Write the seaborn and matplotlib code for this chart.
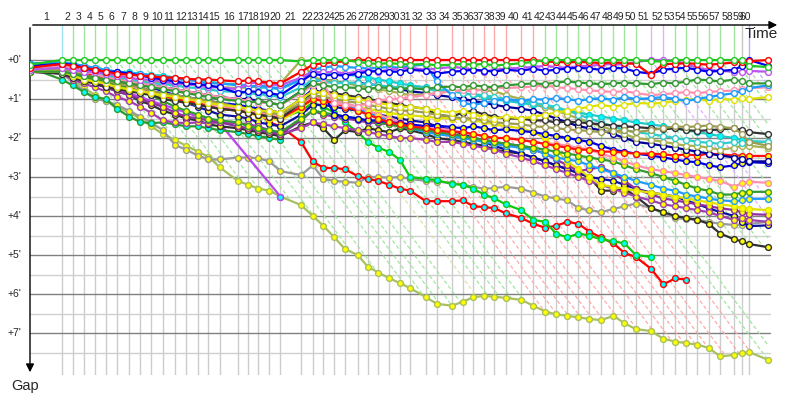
import numpy as np
import pandas as pd
import seaborn as sns
import matplotlib
matplotlib.use("Agg")
from matplotlib import pyplot as plt
from matplotlib import transforms

# leader lap times in seconds, lap 1 .. lap 60
lap_secs = [65.6, 22.8, 22.8, 22.8, 22.8, 22.8, 25.5, 22.8, 22.8, 24.2,
            25.5, 22.8, 24.2, 21.9, 23.2, 37.7, 21.9, 20.7, 22.8, 22.8,
            42.8, 24.2, 21.9, 22.8, 22.1, 26.3, 20.7, 21.9, 22.8, 22.1,
            20.7, 32.5, 22.8, 31.1, 22.8, 21.9, 22.1, 21.3, 23.6, 31.7,
            25.5, 24.2, 22.8, 23.4, 22.8, 22.8, 23.8, 25.9, 22.8, 23.6,
            31.1, 26.1, 24.2, 22.8, 23.4, 22.8, 24.2, 29.6, 15.3, 15.1]
finish_time = 1528

# who led each lap (C cyan, G green, O olive, R red, P purple, A grey, B blue)
lap_leader = "CGGGGGGGGGGGGGGGGGGGOGGGGRRRRRRRRRRRRRRRRGGGGGGGGGPPGGGGGGAB"
last_car_laps = 43

# gaps to the leader in minutes, lap 0 .. lap 60 (+ finish)
gap_green = [0.12,
             0, 0, 0, 0, 0, 0, 0, 0, 0, 0,
             0, 0, 0, 0, 0, 0, 0, 0, 0, 0,
             0.04, 0, 0, 0, 0, 0.05, 0.08, 0.1, 0.08, 0.1,
             0.12, 0.1, 0.14, 0.12, 0.1, 0.12, 0.1, 0.14, 0.12, 0.08,
             0.05, 0, 0, 0, 0, 0, 0, 0, 0, 0,
             0.03, 0.04, 0, 0, 0, 0, 0, 0, 0, 0.15,
             0.18]
gap_red = [0.2,
           0.1, 0.15, 0.2, 0.25, 0.3, 0.35, 0.38, 0.4, 0.42, 0.45,
           0.45, 0.48, 0.5, 0.5, 0.52, 0.55, 0.52, 0.55, 0.58, 0.6,
           0.3, 0.12, 0.08, 0.06, 0.03, 0, 0, 0, 0, 0,
           0, 0, 0, 0, 0, 0, 0, 0, 0, 0,
           0, 0.04, 0.05, 0.06, 0.05, 0.06, 0.08, 0.06, 0.08, 0.1,
           0.38, 0.1, 0.1, 0.08, 0.1, 0.12, 0.1, 0.06, 0.04, 0.03,
           0]
gap_blue = [0.15,
            0.1, 0.12, 0.2, 0.25, 0.3, 0.3, 0.35, 0.4, 0.45, 0.5,
            0.55, 0.6, 0.62, 0.65, 0.7, 0.85, 0.8, 0.82, 0.85, 0.9,
            0.55, 0.35, 0.4, 0.38, 0.4, 0.35, 0.3, 0.28, 0.3, 0.3,
            0.25, 0.28, 0.35, 0.3, 0.28, 0.25, 0.27, 0.3, 0.25, 0.28,
            0.22, 0.28, 0.25, 0.22, 0.2, 0.22, 0.25, 0.2, 0.22, 0.3,
            0.35, 0.25, 0.22, 0.2, 0.25, 0.3, 0.28, 0.25, 0.15, 0,
            0.15]
gap_purple = [0.25,
              0.2, 0.25, 0.3, 0.3, 0.35, 0.4, 0.45, 0.5, 0.5, 0.55,
              0.6, 0.62, 0.65, 0.7, 0.7, 0.75, 0.6, 0.58, 0.62, 0.65,
              0.45, 0.3, 0.32, 0.3, 0.35, 0.3, 0.28, 0.3, 0.25, 0.22,
              0.2, 0.25, 0.22, 0.18, 0.2, 0.25, 0.3, 0.25, 0.22, 0.2,
              0.18, 0.15, 0.18, 0.2, 0.16, 0.15, 0.12, 0.1, 0.12, 0.05,
              0, 0, 0.02, 0.1, 0.2, 0.25, 0.28, 0.3, 0.3, 0.28,
              0.3]
gap_forest = [0.3,
              0.3, 0.35, 0.4, 0.45, 0.5, 0.55, 0.6, 0.65, 0.7, 0.75,
              0.8, 0.85, 0.9, 0.95, 1.0, 1.05, 1.1, 1.05, 1.1, 1.15,
              0.8, 0.6, 0.65, 0.7, 0.7, 0.72, 0.75, 0.7, 0.72, 0.75,
              0.72, 0.75, 0.7, 0.68, 0.7, 0.65, 0.68, 0.7, 0.65, 0.62,
              0.6, 0.62, 0.58, 0.55, 0.58, 0.6, 0.62, 0.6, 0.58, 0.6,
              0.62, 0.58, 0.6, 0.55, 0.5, 0.52, 0.55, 0.5, 0.55, 0.6,
              0.6]
gap_dodger = [0.1,
              0.05, 0.1, 0.15, 0.2, 0.25, 0.3, 0.35, 0.35, 0.4, 0.45,
              0.5, 0.5, 0.55, 0.6, 0.6, 0.65, 0.7, 0.65, 0.7, 0.72,
              0.5, 0.25, 0.2, 0.15, 0.18, 0.2, 0.22, 0.2, 0.18, 0.2,
              0.15, 0.12, 0.55, 0.9, 1.1, 1.15, 1.1, 1.05, 1.0, 1.05,
              1.0, 1.02, 0.98, 1.0, 1.05, 1.0, 0.98, 1.02, 0.95, 1.0,
              0.98, 0.95, 1.0, 1.05, 1.0, 0.95, 0.9, 0.85, 0.8, 0.72,
              0.65]
gap_pink = [0.2,
            0.15, 0.2, 0.3, 0.35, 0.45, 0.5, 0.55, 0.6, 0.65, 0.7,
            0.75, 0.8, 0.85, 0.9, 0.95, 1.0, 1.05, 1.1, 1.1, 1.15,
            0.85, 0.65, 0.6, 1.1, 1.15, 1.2, 1.1, 1.05, 1.0, 1.0,
            0.95, 0.9, 0.85, 0.8, 0.78, 0.8, 0.75, 0.7, 0.72, 0.7,
            0.68, 0.65, 0.7, 0.72, 0.75, 0.78, 0.8, 0.82, 0.8, 0.85,
            0.9, 0.88, 0.85, 0.82, 0.85, 0.82, 0.8, 0.78, 0.75, 0.72,
            0.7]
gap_yellow = [0.3,
              0.3, 0.4, 0.5, 0.55, 0.6, 0.7, 0.75, 0.8, 0.85, 0.9,
              0.95, 1.0, 1.05, 1.1, 1.15, 1.2, 1.25, 1.3, 1.3, 1.35,
              1.0, 0.8, 0.85, 0.9, 0.95, 1.0, 1.05, 1.1, 1.15, 1.2,
              1.2, 1.25, 1.3, 1.35, 1.3, 1.4, 1.45, 1.5, 1.45, 1.5,
              1.45, 1.4, 1.35, 1.3, 1.25, 1.2, 1.15, 1.2, 1.15, 1.1,
              1.12, 1.1, 1.05, 1.02, 1.0, 1.05, 1.0, 1.02, 0.98, 1.0,
              0.95]
gap_olive = [0.25,
             0.25, 0.3, 0.4, 0.45, 0.5, 0.6, 0.65, 0.7, 0.8, 0.85,
             0.9, 0.95, 1.0, 1.05, 1.1, 1.2, 1.25, 1.3, 1.35, 1.4,
             1.1, 0.9, 0.95, 1.0, 1.05, 1.1, 1.15, 1.2, 1.25, 1.3,
             1.3, 1.35, 1.4, 1.45, 1.5, 1.5, 1.55, 1.6, 1.62, 1.65,
             1.7, 1.72, 1.75, 1.78, 1.8, 1.82, 1.85, 1.82, 1.8, 1.85,
             1.8, 1.75, 1.7, 1.72, 1.7, 1.68, 1.72, 1.75, 1.9, 2.1,
             2.2]
gap_black = [0.3,
             0.35, 0.45, 0.55, 0.6, 0.7, 0.75, 0.8, 0.85, 0.9, 1.0,
             1.05, 1.1, 1.15, 1.2, 1.25, 1.3, 1.35, 1.4, 1.45, 1.5,
             1.1, 0.85, 0.8, 0.85, 0.9, 0.95, 1.0, 1.05, 1.1, 1.15,
             1.2, 1.25, 1.4, 1.45, 1.35, 1.3, 1.4, 1.45, 1.5, 1.5,
             1.55, 1.55, 1.6, 1.58, 1.6, 1.62, 1.65, 1.68, 1.7, 1.72,
             1.75, 1.78, 1.75, 1.8, 1.82, 1.8, 1.78, 1.75, 1.8, 1.85,
             1.9]
gap_cyan = [0.2,
            0.2, 0.25, 0.3, 0.35, 0.4, 0.45, 0.5, 0.55, 0.6, 0.62,
            0.65, 0.7, 0.72, 0.75, 0.8, 0.82, 0.85, 0.88, 0.9, 0.95,
            0.7, 0.5, 0.55, 0.6, 0.58, 0.6, 0.62, 0.65, 0.68, 0.7,
            0.72, 0.75, 0.78, 0.8, 0.85, 0.88, 0.9, 0.95, 1.0, 1.05,
            1.1, 1.15, 1.2, 1.3, 1.4, 1.5, 1.6, 1.7, 1.8, 1.85,
            1.9, 1.95, 2.0, 2.05, 2.1, 2.12, 2.15, 2.1, 2.12, 2.1,
            2.1]
gap_navy = [0.2,
            0.15, 0.2, 0.3, 0.35, 0.4, 0.5, 0.55, 0.6, 0.65, 0.7,
            0.75, 0.8, 0.85, 0.9, 0.95, 1.0, 1.0, 1.05, 1.1, 1.15,
            0.8, 0.55, 0.5, 0.55, 0.6, 0.58, 0.62, 0.65, 0.7, 0.75,
            0.8, 0.85, 0.9, 0.95, 1.0, 1.05, 1.1, 1.15, 1.2, 1.25,
            1.3, 1.4, 1.5, 1.6, 1.7, 1.75, 1.8, 1.9, 2.0, 2.1,
            2.15, 2.2, 2.25, 2.3, 2.35, 2.4, 2.45, 2.5, 2.55, 2.6,
            2.6]
gap_lime = [0.25,
            0.2, 0.25, 0.3, 0.35, 0.4, 0.45, 0.5, 0.52, 0.55, 0.58,
            0.6, 0.62, 0.65, 0.68, 0.7, 0.72, 0.7, 0.68, 0.65, 0.6,
            0, 0.45, 0.5, 0.55, 0.6, 0.65, 0.7, 0.75, 0.8, 0.85,
            0.9, 0.88, 0.85, 0.8, 0.78, 0.75, 0.78, 0.8, 0.9, 1.0,
            1.1, 1.2, 1.3, 1.4, 1.5, 1.6, 1.7, 1.8, 1.9, 2.0,
            2.05, 2.1, 2.15, 2.2, 2.2, 2.25, 2.3, 2.25, 2.2, 2.2,
            2.25]
gap_teal = [0.1,
            0.05, 0.1, 0.15, 0.2, 0.25, 0.3, 0.32, 0.35, 0.38, 0.4,
            0.45, 0.5, 0.5, 0.55, 0.6, 0.62, 0.65, 0.7, 0.72, 0.75,
            0.5, 0.3, 0.32, 0.35, 0.38, 0.4, 0.45, 0.5, 0.55, 0.6,
            0.65, 0.7, 0.75, 0.8, 0.85, 0.9, 0.95, 1.0, 1.05, 1.1,
            1.15, 1.2, 1.25, 1.3, 1.35, 1.4, 1.45, 1.5, 1.55, 1.6,
            1.65, 1.7, 1.75, 1.8, 1.85, 1.9, 1.95, 2.0, 2.05, 2.08,
            2.1]
gap_red_y = [0.15,
             0.15, 0.2, 0.3, 0.4, 0.5, 0.55, 0.6, 0.7, 0.8, 0.9,
             1.0, 1.05, 1.1, 1.2, 1.25, 1.3, 1.35, 1.4, 1.45, 1.5,
             1.2, 1.0, 1.05, 1.1, 1.2, 1.3, 1.4, 1.5, 1.6, 1.65,
             1.7, 1.75, 1.8, 1.85, 1.85, 1.9, 1.95, 2.0, 2.0, 2.05,
             2.1, 2.15, 2.2, 2.25, 2.3, 2.3, 2.35, 2.35, 2.38, 2.4,
             2.4, 2.42, 2.45, 2.42, 2.45, 2.4, 2.42, 2.45, 2.45, 2.46,
             2.46]
gap_blue_y = [0.1,
              0.1, 0.15, 0.2, 0.3, 0.4, 0.45, 0.5, 0.6, 0.7, 0.8,
              0.9, 0.95, 1.0, 1.05, 1.1, 1.15, 1.2, 1.25, 1.3, 1.35,
              1.0, 0.75, 0.85, 1.4, 1.45, 1.5, 1.55, 1.55, 1.6, 1.62,
              1.65, 1.7, 1.68, 1.72, 1.75, 1.7, 1.75, 1.8, 1.78, 1.82,
              1.85, 1.9, 1.95, 2.0, 2.05, 2.1, 2.2, 2.3, 2.35, 2.4,
              2.45, 2.5, 2.55, 2.6, 2.62, 2.7, 2.75, 2.7, 2.65, 2.62,
              2.64]
gap_pink_y = [0.2,
              0.2, 0.3, 0.35, 0.45, 0.5, 0.6, 0.65, 0.75, 0.8, 0.9,
              0.95, 1.0, 1.1, 1.15, 1.2, 1.25, 1.3, 1.35, 1.4, 1.45,
              1.15, 0.95, 1.0, 1.05, 1.1, 1.2, 1.3, 1.4, 1.5, 1.6,
              1.65, 1.7, 1.75, 1.8, 1.85, 1.9, 1.95, 2.0, 2.0, 2.05,
              2.1, 2.15, 2.15, 2.2, 2.25, 2.3, 2.4, 2.5, 2.6, 2.7,
              2.8, 2.85, 2.9, 2.95, 3.0, 3.05, 3.1, 3.25, 3.15, 3.12,
              3.15]
gap_forest_y = [0.25,
                0.25, 0.35, 0.45, 0.5, 0.55, 0.65, 0.7, 0.8, 0.9, 1.05,
                1.2, 1.3, 1.4, 1.5, 1.55, 1.6, 1.7, 1.75, 1.8, 1.85,
                1.5, 1.3, 1.35, 1.4, 1.45, 1.5, 1.55, 1.6, 1.65, 1.7,
                1.75, 1.8, 1.85, 1.9, 1.95, 2.0, 2.05, 2.1, 2.15, 2.2,
                2.25, 2.3, 2.35, 2.4, 2.45, 2.5, 2.55, 2.6, 2.7, 2.8,
                2.9, 3.0, 3.1, 3.2, 3.3, 3.35, 3.45, 3.45, 3.4, 3.38,
                3.38]
gap_dodger_y = [0.15,
                0.15, 0.25, 0.3, 0.4, 0.5, 0.55, 0.65, 0.7, 0.8, 0.85,
                0.95, 1.0, 1.05, 1.1, 1.2, 1.25, 1.3, 1.35, 1.4, 1.45,
                1.15, 0.9, 0.95, 1.05, 1.15, 1.25, 1.35, 1.45, 1.55, 1.65,
                1.75, 1.85, 1.9, 1.95, 2.0, 2.05, 2.1, 2.15, 2.2, 2.25,
                2.3, 2.4, 2.5, 2.55, 2.6, 2.7, 2.8, 2.9, 3.0, 3.1,
                3.2, 3.3, 3.35, 3.45, 3.5, 3.55, 3.6, 3.62, 3.6, 3.56,
                3.56]
gap_yellow_y = [0.3,
                0.3, 0.4, 0.5, 0.55, 0.6, 0.7, 0.75, 0.8, 0.9, 0.95,
                1.0, 1.1, 1.15, 1.2, 1.25, 1.3, 1.35, 1.45, 1.5, 1.55,
                1.25, 1.0, 1.05, 1.1, 1.15, 1.2, 1.25, 1.3, 1.35, 1.4,
                1.42, 1.45, 1.48, 1.5, 1.52, 1.55, 1.6, 1.65, 1.7, 1.75,
                1.85, 2.0, 2.3, 2.6, 2.8, 3.0, 3.2, 3.25, 3.3, 3.35,
                3.4, 3.45, 3.5, 3.55, 3.6, 3.65, 3.7, 3.75, 3.8, 3.82,
                3.85]
gap_purple_y = [0.2,
                0.25, 0.4, 0.5, 0.6, 0.7, 0.8, 0.9, 1.0, 1.1, 1.2,
                1.35, 1.45, 1.5, 1.55, 1.6, 1.7, 1.75, 1.8, 1.85, 1.9,
                1.55, 1.3, 1.4, 1.45, 1.5, 1.55, 1.6, 1.62, 1.65, 1.7,
                1.75, 1.8, 1.85, 1.9, 1.95, 2.0, 2.05, 2.1, 2.15, 2.2,
                2.3, 2.4, 2.55, 2.7, 2.85, 2.8, 2.75, 2.9, 3.1, 3.3,
                3.45, 3.55, 3.6, 3.65, 3.7, 3.75, 3.8, 3.85, 3.9, 3.95,
                3.97]
gap_plum_y = [0.3,
              0.35, 0.5, 0.6, 0.7, 0.8, 0.95, 1.05, 1.2, 1.35, 1.55,
              1.6, 1.62, 1.6, 1.62, 1.6, 1.62, 1.65, 1.7, 1.8, 1.9,
              1.75, 1.6, 1.65, 1.7, 1.75, 1.8, 1.85, 1.9, 1.95, 2.0,
              2.0, 2.05, 2.1, 2.1, 2.15, 2.2, 2.25, 2.3, 2.4, 2.5,
              2.6, 2.7, 2.8, 2.9, 3.0, 3.1, 3.2, 3.3, 3.4, 3.5,
              3.6, 3.7, 3.75, 3.8, 3.85, 3.9, 4.0, 4.1, 4.05, 4.1,
              4.15]
gap_navy_y = [0.1,
              0.1, 0.2, 0.3, 0.35, 0.45, 0.5, 0.6, 0.7, 0.8, 0.9,
              1.0, 1.1, 1.2, 1.3, 1.4, 1.45, 1.5, 1.6, 1.65, 1.7,
              1.4, 1.15, 1.15, 1.2, 1.25, 1.3, 1.35, 1.4, 1.45, 1.5,
              1.55, 1.6, 1.7, 1.8, 1.9, 2.0, 2.1, 2.2, 2.3, 2.4,
              2.5, 2.6, 2.7, 2.8, 2.9, 3.0, 3.05, 3.1, 3.2, 3.3,
              3.4, 3.45, 3.5, 3.6, 3.7, 3.8, 3.9, 4.0, 4.15, 4.26,
              4.24]
gap_black_y = [0.25,
               0.3, 0.4, 0.5, 0.6, 0.7, 0.8, 0.9, 1.05, 1.15, 1.3,
               1.4, 1.5, 1.55, 1.65, 1.7, 1.75, 1.8, 1.85, 1.9, 1.95,
               1.7, 1.6, 1.75, 2.05, 1.8, 1.85, 1.75, 1.8, 1.85, 1.75,
               1.8, 1.9, 2.0, 2.05, 2.1, 2.15, 2.2, 2.3, 2.35, 2.4,
               2.5, 2.6, 2.7, 2.8, 2.9, 3.0, 3.35, 3.35, 3.3, 3.5,
               3.8, 3.9, 4.0, 4.05, 4.1, 4.2, 4.45, 4.6, 4.65, 4.72,
               4.8]
gap_gray = [0.28,
            0.35, 0.55, 0.8, 1.0, 1.05, 1.15, 1.3, 1.45, 1.6, 1.8,
            2.18, 2.3, 2.45, 2.55, 2.55, 2.5, 2.5, 2.52, 2.6, 2.85,
            2.95, 2.7, 3.05, 3.1, 3.12, 3.15, 3.0, 3.0, 3.02, 3.0,
            3.05, 3.1, 3.12, 3.15, 3.2, 3.25, 3.3, 3.28, 3.25, 3.3,
            3.4, 3.5, 3.55, 3.6, 3.8, 3.85, 3.9, 3.82, 3.75, 3.68,
            3.8, 3.92, 4.05, 4.08, 4.1, 4.15, 4.2, 4.23, 4.22, 4.2,
            4.15]
gap_khaki = [0.25,
             0.3, 0.5, 0.7, 0.9, 1.05, 1.2, 1.35, 1.5, 1.7, 1.9,
             2.05, 2.2, 2.35, 2.48, 2.75, 3.1, 3.2, 3.3, 3.35, 3.5,
             3.72, 4.0, 4.25, 4.55, 4.85, 5.0, 5.3, 5.45, 5.6, 5.72,
             5.85, 6.08, 6.25, 6.3, 6.2, 6.08, 6.05, 6.07, 6.1, 6.15,
             6.3, 6.45, 6.52, 6.56, 6.6, 6.64, 6.67, 6.56, 6.75, 6.9,
             6.95, 7.15, 7.22, 7.26, 7.3, 7.38, 7.6, 7.56, 7.5, 7.49,
             7.69]
# retired cars
gap_violet_out = [0.2,
                  0.25, 0.35, 0.45, 0.55, 0.65, 0.75, 0.85, 0.95, 1.05, 1.15,
                  1.25, 1.35, 1.45, 1.5, 1.62, None, None, None, None, 3.5]
gap_green_out = [0.2,
                 0.2, 0.3, 0.4, 0.5, 0.55, 0.65, 0.7, 0.8, 0.85, 0.95,
                 1.0, 1.05, 1.1, 1.15, 1.2, 1.3, 1.35, 1.4, 1.45, 1.5,
                 1.3, 1.1, 1.2, 1.35, 1.6, 1.85, 2.1, 2.25, 2.36, 2.56,
                 3.0, 3.05, 3.08, 3.18, 3.2, 3.3, 3.45, 3.55, 3.7, 3.85,
                 4.1, 4.15, 4.45, 4.55, 4.45, 4.5, 4.6, 4.65, 4.7, 5.0,
                 5.05]
gap_red_out = [0.15,
               0.15, 0.25, 0.35, 0.45, 0.5, 0.6, 0.65, 0.75, 0.8, 0.9,
               0.95, 1.0, 1.05, 1.1, 1.15, 1.2, 1.3, 1.35, 1.6, 1.7,
               2.1, 2.6, 2.77, 2.77, 2.8, 2.98, 3.05, 3.1, 3.2, 3.3,
               3.35, 3.62, 3.62, 3.62, 3.6, 3.75, 3.77, 3.8, 3.93, 4.05,
               4.2, 4.3, 4.25, 4.15, 4.2, 4.4, 4.55, 4.7, 4.95, 5.05,
               5.35, 5.75, 5.6, 5.63]
gap_forest_out = [0.2,
                  0.5, 0.65, 0.82, 0.95, 1.0, 1.25, 1.45, 1.59, 1.62, 1.6,
                  1.65, 1.7, 1.7, 1.75, 1.8, 1.85, 1.9, 1.95, 2.0, 2.05]

W, Y, C = "white", "#ffff00", "#00ffff"
# drawn bottom to top: (gaps, line colour, marker fill)
drivers = [
    (gap_khaki, "#a8c060", Y), (gap_gray, "#9a9a9a", Y),
    (gap_violet_out, "#bb44ee", W), (gap_forest_out, "#2e9a2e", C),
    (gap_red_out, "#ff0000", C), (gap_green_out, "#10c810", C),
    (gap_black_y, "#303030", Y), (gap_navy_y, "#1010a0", Y),
    (gap_plum_y, "#a040b0", Y), (gap_purple_y, "#9030a0", Y),
    (gap_yellow_y, "#e0e000", Y), (gap_dodger_y, "#1e9bff", Y),
    (gap_forest_y, "#339933", Y), (gap_pink_y, "#ff8fb0", Y),
    (gap_blue_y, "#0000dd", Y), (gap_red_y, "#ff1010", Y),
    (gap_teal, "#20c8c8", C), (gap_navy, "#000099", W),
    (gap_lime, "#a8b050", W), (gap_cyan, "#30cccc", W),
    (gap_black, "#333333", W), (gap_olive, "#9c9c52", W),
    (gap_yellow, "#e0e000", W), (gap_pink, "#ff90b0", W),
    (gap_dodger, "#1e9bff", W), (gap_forest, "#339933", W),
    (gap_purple, "#bb55ee", W), (gap_blue, "#0000ee", W),
    (gap_red, "#ff0000", W), (gap_green, "#1ec81e", W),
]
leader_colors = {"C": "#a0e0f0", "G": "#a0e6a0", "O": "#e0e0b0", "R": "#ffaaaa",
                 "P": "#e0b0ff", "A": "#c8c8c8", "B": "#b0b0ff"}

sns.set_theme(style="white")
plt.rcParams["font.family"] = ["Liberation Sans", "DejaVu Sans"]

fig = plt.figure(figsize=(8, 4), dpi=100)
ax = fig.add_axes([30 / 800, 25 / 400, 750 / 800, 350 / 400])
ymin, ymax = -35 / 39, 315 / 39
ax.set_xlim(0, 1552.5)
ax.set_ylim(ymax, ymin)
ax.axis("off")

lap_t = np.concatenate([[0], np.cumsum(lap_secs)])
x_all = np.append(lap_t, finish_time)
grid_end = 1532

# lap grid: grey below the leader, leader colour above it
for k, t in enumerate(lap_t[1:]):
    ax.plot([t, t], [0, ymax], color="#cccccc", lw=1, zorder=1)
    ax.plot([t, t], [ymin, 0], color=leader_colors[lap_leader[k]], lw=1, zorder=1)
for i in range(8):
    ax.plot([0, grid_end], [i + 0.5, i + 0.5], color="#d0d0d0", lw=1, zorder=1.1)
    ax.plot([0, grid_end], [i, i], color="#808080", lw=1, zorder=1.2)


def diag_end(t0, xs_c, gs_c):
    xs = np.linspace(t0, xs_c[-1], 900)
    d = (xs - t0) / 60.0
    hit = np.nonzero(d >= np.interp(xs, xs_c, gs_c))[0]
    i = hit[0] if len(hit) else len(xs) - 1
    return xs[i], d[i]


# same-lap diagonals, ending at the last car still on that lap
for k, t in enumerate(lap_t[1:]):
    last = gap_khaki if k + 1 <= last_car_laps else gap_black_y
    xe, ye = diag_end(t, x_all[:len(last)], last)
    ax.plot([t, xe], [0, ye], color=leader_colors[lap_leader[k]], lw=0.9,
            dashes=(3, 2), zorder=1.5)

for z, (gaps, col, face) in enumerate(drivers):
    df = pd.DataFrame({"time": x_all[:len(gaps)], "gap": gaps}).astype(float).dropna()
    sns.lineplot(data=df, x="time", y="gap", color=col, linewidth=1.6, marker="o",
                 markersize=4.2, markerfacecolor=face, markeredgecolor=col,
                 markeredgewidth=1, estimator=None, sort=False, ax=ax,
                 zorder=2 + z * 0.1)
    if gaps is gap_violet_out:
        ax.plot(df["time"].iloc[-1], df["gap"].iloc[-1], "o", ms=4.2, mfc=C,
                mec=col, mew=1, zorder=2 + z * 0.1)

# lap numbers along the top
mids = (lap_t[:-1] + lap_t[1:]) / 2
for k, m in enumerate(mids):
    ax.text(m, -1.1, str(k + 1), ha="center", va="center", fontsize=7.5, clip_on=False)

ytr = transforms.blended_transform_factory(ax.transAxes, ax.transData)
for i in range(8):
    ax.text(-0.0295, i, f"+{i}'", transform=ytr, ha="left", va="center",
            fontsize=7.5, clip_on=False)

# axes arrows
ax.annotate("", xy=(780, 375), xytext=(30, 375), xycoords="figure pixels",
            arrowprops=dict(arrowstyle="-|>", color="black", lw=1, mutation_scale=12))
ax.annotate("", xy=(30, 25), xytext=(30, 375), xycoords="figure pixels",
            arrowprops=dict(arrowstyle="-|>", color="black", lw=1, mutation_scale=12))
fig.text(778 / 800, 1 - 27 / 400, "Time", ha="right", va="top", fontsize=11)
fig.text(25 / 800, 1 - 386 / 400, "Gap", ha="center", va="center", fontsize=10.5)

fig.savefig("out.png", dpi=100)
